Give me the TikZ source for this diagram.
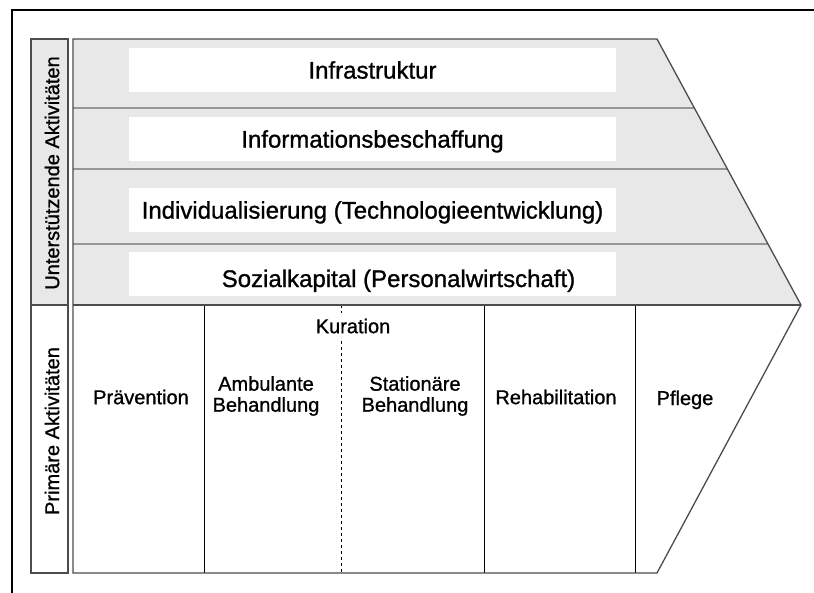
\documentclass[tikz,border=0pt]{standalone}
\usepackage{fontspec}
\setmainfont{Liberation Sans}[UprightFeatures={FakeBold=1}]
\usetikzlibrary{calc}
\definecolor{fillgray}{gray}{0.91}
\begin{document}
\begin{tikzpicture}[x=1pt, y=-1pt,
    outline/.style = {draw=black!70, line width=1.3pt},
    sep/.style = {draw=black, line width=0.8pt},
    whitebox/.style = {fill=white, minimum width=487pt, minimum height=44pt,
        inner sep=0pt, text height=17.2pt, text depth=0pt,
        font=\fontsize{24}{26}\selectfont},
    prim/.style = {align=center, font=\fontsize{20}{21}\selectfont},
    sidelabel/.style = {rotate=90, font=\fontsize{20}{21}\selectfont}]
    \useasboundingbox (0,0) rectangle (814,592);
    % outer frame, cut by the page
    \draw[line width=1.6pt] (12,10) rectangle (850,640);
    % side column
    \draw[outline, fill=fillgray] (31,39) rectangle (68,305);
    \draw[outline] (31,305) rectangle (68,573);
    \node[sidelabel] (unterst) at (52,173) {Unterstützende Aktivitäten};
    \node[sidelabel] (primaer) at (52,431) {Primäre Aktivitäten};
    % arrow
    \coordinate (tl) at (73,39);
    \coordinate (tr) at (657,39);
    \coordinate (tip) at (801,305);
    \coordinate (ml) at (73,305);
    \coordinate (br) at (657,573);
    \coordinate (bl) at (73,573);
    \fill[fillgray] (tl) -- (tr) -- (tip) -- (ml) -- cycle;
    \foreach \y in {108,169,244}
        \draw[sep] (73,\y) -- ($(tr)!{(\y-39)/266}!(tip)$);
    \foreach \x in {204,484,635}
        \draw[sep] (\x,305) -- (\x,573);
    \draw[sep, dashed, line width=0.6pt] (341,305) -- (341,573);
    \draw[outline] (tl) -- (tr) -- (tip) -- (br) -- (bl) -- cycle;
    \draw[outline] (ml) -- (tip);
    % support activities
    \node[whitebox] (infra) at (372.5,70) {Infrastruktur};
    \node[whitebox] (info) at (372.5,139) {Informationsbeschaffung};
    \node[whitebox] (indiv) at (372.5,210) {Individualisierung (Technologieentwicklung)};
    \node[whitebox, text height=27pt] (sozial) at (372.5,273.5)
        {\hspace*{52pt}Sozialkapital (Personalwirtschaft)};
    % primary activities
    \node[prim, fill=white, inner xsep=2pt, inner ysep=6pt] (kuration) at (353,326) {Kuration};
    \node[prim] (praev) at (141,397) {Prävention};
    \node[prim] (ambul) at (266,396) {Ambulante\\Behandlung};
    \node[prim] (station) at (415,396) {Stationäre\\Behandlung};
    \node[prim] (reha) at (556,397) {Rehabilitation};
    \node[prim, anchor=base] (pflege) at (685,405) {Pflege};
\end{tikzpicture}
\end{document}
